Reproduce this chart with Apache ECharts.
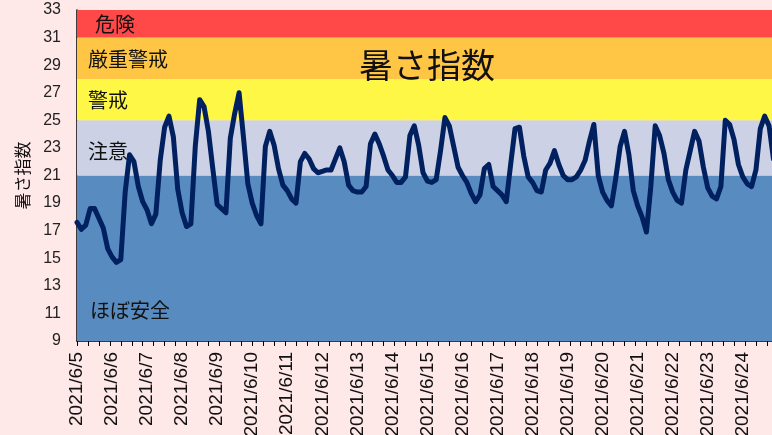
<!DOCTYPE html>
<html>
<head>
<meta charset="utf-8">
<script src="https://cdn.jsdelivr.net/npm/echarts@6/dist/echarts.min.js"></script>
<style>
html,body{margin:0;padding:0;background:#FFE8E8;}
#c{width:772px;height:435px;}
</style>
</head>
<body>
<div id="c"></div>
<script>
// day labels on the x axis
const days = ['2021/6/5','2021/6/6','2021/6/7','2021/6/8','2021/6/9','2021/6/10','2021/6/11',
  '2021/6/12','2021/6/13','2021/6/14','2021/6/15','2021/6/16','2021/6/17','2021/6/18',
  '2021/6/19','2021/6/20','2021/6/21','2021/6/22','2021/6/23','2021/6/24'];
// hours between two readings
const stepHours = 3;
// WBGT readings, one every 3 hours from 2021/6/5 0:00
const wbgt = [
  17.6,17.1,17.4,18.6,18.6,17.9,17.2,15.7,
  15.1,14.7,14.9,19.8,22.5,22.0,20.2,19.1,
  18.5,17.5,18.2,22.1,24.5,25.3,23.8,20.0,
  18.3,17.3,17.5,23.1,26.5,26.0,24.2,21.5,
  18.9,18.6,18.3,23.7,25.5,27.0,23.8,20.4,
  19.0,18.1,17.5,23.1,24.2,23.2,21.5,20.3,
  19.9,19.3,19.0,22.0,22.6,22.2,21.5,21.2,
  21.3,21.4,21.4,22.2,23.0,22.0,20.3,19.9,
  19.8,19.8,20.2,23.3,24.0,23.3,22.4,21.4,
  21.0,20.5,20.5,20.9,23.9,24.6,23.2,21.2,
  20.6,20.5,20.7,22.8,25.2,24.6,23.1,21.6,
  21.0,20.5,19.7,19.1,19.6,21.5,21.8,20.2,
  19.9,19.6,19.1,21.8,24.4,24.5,22.4,20.9,
  20.5,19.9,19.8,21.4,21.9,22.8,21.8,21.0,
  20.7,20.7,20.9,21.4,22.1,23.5,24.7,21.0,
  19.8,19.2,18.8,20.8,23.1,24.2,22.5,19.9,
  18.8,18.0,16.9,20.2,24.6,23.9,22.6,20.7,
  19.8,19.2,19.0,21.4,22.8,24.2,23.5,21.6,
  20.1,19.5,19.3,20.2,25.0,24.7,23.6,21.8,
  20.9,20.4,20.2,21.4,24.4,25.3,24.6,22.2
];
// risk bands: [lower, upper, label, colour]
const bandLow = [9, 21, 25, 28, 31];
const bandHigh = [21, 25, 28, 31, 33];
const bandName = ['ほぼ安全', '注意', '警戒', '厳重警戒', '危険'];
const bandColor = ['#588CC0', '#CCD1E5', '#FFF745', '#FFC545', '#FF4848'];
const bandLabelOffset = [[8, 52], [6, 3], [6, 1], [6, 1], [13, 1]];

const seriesData = wbgt.map((v, i) => [i * stepHours, v]);
const xMax = 476;

const markAreaData = bandLow.map((lo, i) => [
  {
    yAxis: lo,
    name: bandName[i],
    itemStyle: { color: bandColor[i], opacity: 1 },
    label: {
      show: true, position: 'insideLeft', offset: bandLabelOffset[i],
      fontSize: 20, color: '#111', fontFamily: 'Noto Sans CJK JP'
    }
  },
  { yAxis: bandHigh[i] }
]);

const chart = echarts.init(document.getElementById('c'), null, { renderer: 'canvas' });
chart.setOption({
  backgroundColor: '#FFE8E8',
  animation: false,
  grid: { left: 77, right: 0, top: 10, bottom: 94, containLabel: false, outerBoundsMode: 'none' },
  xAxis: [
    {
      type: 'value', min: 0, max: xMax, interval: 24,
      axisLine: { show: true, lineStyle: { color: '#000', width: 1.5 } },
      axisTick: { show: false },
      splitLine: { show: false },
      axisLabel: {
        rotate: 90, margin: 11, fontSize: 19, color: '#111',
        fontFamily: 'Liberation Sans Narrow, Liberation Sans, Arial',
        showMaxLabel: false,
        formatter: v => (v % 24 === 0 && days[v / 24]) ? days[v / 24] : ''
      }
    },
    {
      type: 'value', min: 0, max: xMax, interval: 7.5, position: 'bottom',
      axisLine: { show: false },
      axisTick: { show: true, length: 5, lineStyle: { color: '#000', width: 1 } },
      splitLine: { show: false },
      axisLabel: { show: false }
    }
  ],
  yAxis: {
    type: 'value', min: 9, max: 33, interval: 2,
    name: '暑さ指数', nameLocation: 'middle', nameRotate: 90, nameGap: 46,
    nameTextStyle: { fontSize: 17, color: '#111', fontFamily: 'Noto Sans CJK JP' },
    axisLine: { show: true, lineStyle: { color: '#000', width: 1.5 } },
    axisTick: { show: false },
    splitLine: { show: false },
    axisLabel: { fontSize: 16, color: '#222', margin: 16, fontFamily: 'Liberation Sans, Arial' }
  },
  graphic: [{
    type: 'text', x: 427, y: 65, z: 10,
    style: {
      text: '暑さ指数', fill: '#111', textAlign: 'center', textVerticalAlign: 'middle',
      font: '34px "Noto Sans CJK JP"'
    }
  }],
  series: [{
    type: 'line', xAxisIndex: 0, data: seriesData, symbol: 'none', z: 3,
    lineStyle: { color: '#002060', width: 5, cap: 'round', join: 'round' },
    markArea: { silent: true, z: 1, data: markAreaData }
  }]
});
</script>
</body>
</html>
